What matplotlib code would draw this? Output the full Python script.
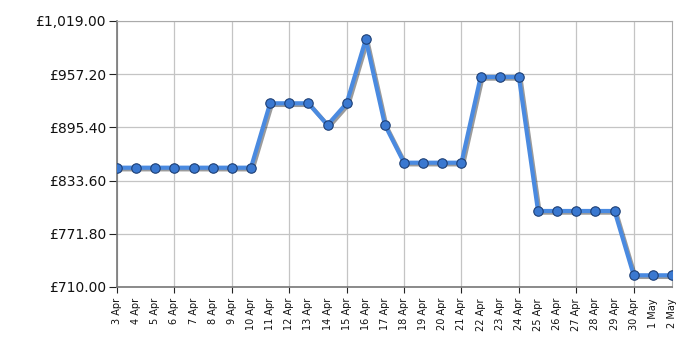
import matplotlib
matplotlib.use("Agg")
from matplotlib import pyplot as plt, patheffects as pe

dates = ["3 Apr", "4 Apr", "5 Apr", "6 Apr", "7 Apr", "8 Apr", "9 Apr", "10 Apr",
         "11 Apr", "12 Apr", "13 Apr", "14 Apr", "15 Apr", "16 Apr", "17 Apr",
         "18 Apr", "19 Apr", "20 Apr", "21 Apr", "22 Apr", "23 Apr", "24 Apr",
         "25 Apr", "26 Apr", "27 Apr", "28 Apr", "29 Apr", "30 Apr", "1 May", "2 May"]
prices = [848.6, 848.6, 848.6, 848.6, 848.6, 848.6, 848.6, 848.6,
          923.4, 923.4, 923.4, 898.2, 923.4, 997.7, 898.2,
          854.4, 854.4, 854.4, 854.4, 954.0, 954.0, 954.0,
          798.3, 798.3, 798.3, 798.3, 798.3, 723.6, 723.6, 723.6]
y_ticks = [710.00, 771.80, 833.60, 895.40, 957.20, 1019.00]

fig = plt.figure(figsize=(7, 3.5), dpi=100)
ax = fig.add_axes([117 / 700, 1 - 287 / 350, (672 - 117) / 700, (287 - 21) / 350])

x = list(range(len(dates)))
ax.plot(x, prices, color="#4a8ae0", linewidth=3, zorder=3,
        path_effects=[pe.SimpleLineShadow(offset=(1.2, -1.2), shadow_color="#222222", alpha=0.45),
                      pe.Normal()])
ax.plot(x, prices, linestyle="none", marker="o", markersize=6.8,
        markerfacecolor="#3a78d0", markeredgecolor="#1d3f75", markeredgewidth=0.8, zorder=4)

ax.set_xlim(0, len(dates) - 1)
ax.set_ylim(y_ticks[0], y_ticks[-1])
ax.set_yticks(y_ticks)
ax.set_yticklabels(["£{:,.2f}".format(v) for v in y_ticks], fontsize=10, color="#111111")

ax.set_xticks(x)
ax.set_xticklabels(dates, rotation=90, fontsize=7, color="#111111")
ax.tick_params(axis="x", length=4, color="#222222", pad=4)
ax.tick_params(axis="y", length=6, color="#222222", pad=2)

ax.grid(True, color="#c4c4c4", linewidth=0.9)
for i, t in enumerate(ax.xaxis.get_major_ticks()):
    if i % 3 != 0:
        t.tick1line.set_visible(False)
        t.gridline.set_visible(False)
ax.set_axisbelow(True)
for side in ["left", "bottom"]:
    ax.spines[side].set_color("#777777")
    ax.spines[side].set_linewidth(1.2)
for side in ["top", "right"]:
    ax.spines[side].set_color("#aaaaaa")

fig.savefig("out.png", dpi=100)
